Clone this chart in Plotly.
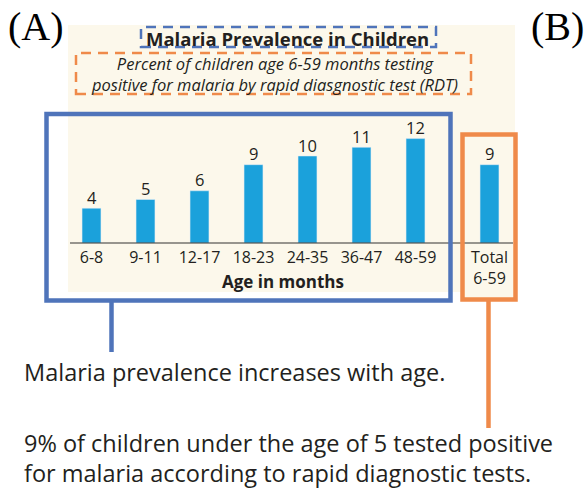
import plotly.graph_objects as go

# ---- data ----
age_groups = ["6-8", "9-11", "12-17", "18-23", "24-35", "36-47", "48-59"]
prevalence = [4, 5, 6, 9, 10, 11, 12]
total_label = ["Total<br>6-59"]
total_value = [9]

title_text = "Malaria Prevalence in Children"
subtitle_lines = ["Percent of children age 6-59 months testing",
                  "positive for malaria by rapid diasgnostic test (RDT)"]
xaxis_title = "Age in months"
note_a = "Malaria prevalence increases with age."
note_b = ["9% of children under the age of 5 tested positive",
          "for malaria according to rapid diagnostic tests."]

W, H = 588, 490
BAR = "#1ba1db"
CREAM = "#fcf8eb"
BLUE = "#4f74ba"
ORANGE = "#ef8a4a"
TXT = "#231f20"
FONT = "Open Sans"


def X(p):
    return p / W


def Y(p):
    return 1 - p / H


fig = go.Figure()
fig.add_trace(go.Bar(
    x=age_groups, y=prevalence, marker_color=BAR, width=0.35,
    xaxis="x", yaxis="y", showlegend=False, hoverinfo="x+y"))
fig.add_trace(go.Bar(
    x=total_label, y=total_value, marker_color=BAR, width=0.35,
    xaxis="x2", yaxis="y", showlegend=False, hoverinfo="y"))

base_px = 243
unit_px = 8.7
ymax = 14
y_dom = [Y(base_px), Y(base_px - ymax * unit_px)]

axis_common = dict(showgrid=False, zeroline=False, showline=False, ticks="",
                   tickfont=dict(size=16, color=TXT, family=FONT),
                   ticklabelstandoff=3, fixedrange=True)
fig.update_layout(
    width=W, height=H, margin=dict(l=0, r=0, t=0, b=0),
    paper_bgcolor="white", plot_bgcolor="rgba(0,0,0,0)",
    font=dict(family=FONT, color=TXT),
    bargap=0.65,
    xaxis=dict(domain=[X(64.5), X(442.5)], type="category", anchor="y",
               range=[-0.5, 6.5], **axis_common),
    xaxis2=dict(domain=[X(462.5), X(516.5)], type="category", anchor="y",
                range=[-0.5, 0.5], **axis_common),
    yaxis=dict(domain=y_dom, range=[0, ymax], showticklabels=False,
               showgrid=False, zeroline=False, showline=False, fixedrange=True),
)

shapes = []
# cream background
shapes.append(dict(type="rect", xref="paper", yref="paper", layer="below",
                   x0=X(68), x1=X(515), y0=Y(292), y1=Y(25),
                   fillcolor=CREAM, line=dict(width=0)))
shapes.append(dict(type="rect", xref="paper", yref="paper", layer="below",
                   x0=X(462), x1=X(516), y0=Y(300), y1=Y(134),
                   fillcolor=CREAM, line=dict(width=0)))
# baseline
shapes.append(dict(type="line", xref="paper", yref="paper",
                   x0=X(70), x1=X(513), y0=Y(base_px), y1=Y(base_px),
                   line=dict(color="#333333", width=1.2)))
# dashed title boxes
shapes.append(dict(type="rect", xref="paper", yref="paper",
                   x0=X(141), x1=X(436), y0=Y(47), y1=Y(27),
                   line=dict(color=BLUE, width=2.5, dash="10px,7px")))
shapes.append(dict(type="rect", xref="paper", yref="paper",
                   x0=X(76), x1=X(471), y0=Y(94), y1=Y(53),
                   line=dict(color=ORANGE, width=2.5, dash="10px,7px")))
# solid highlight boxes
shapes.append(dict(type="rect", xref="paper", yref="paper",
                   x0=X(46.5), x1=X(450.5), y0=Y(300.5), y1=Y(114),
                   line=dict(color=BLUE, width=4.5)))
shapes.append(dict(type="line", xref="paper", yref="paper",
                   x0=X(111.5), x1=X(111.5), y0=Y(302), y1=Y(352),
                   line=dict(color=BLUE, width=4.5)))
shapes.append(dict(type="rect", xref="paper", yref="paper",
                   x0=X(462.5), x1=X(515.5), y0=Y(299.5), y1=Y(134.5),
                   line=dict(color=ORANGE, width=4.5)))
shapes.append(dict(type="line", xref="paper", yref="paper",
                   x0=X(488.5), x1=X(488.5), y0=Y(301), y1=Y(428),
                   line=dict(color=ORANGE, width=4.5)))
fig.update_layout(shapes=shapes)


def ann(text, x, y, size, xanchor="center", bold=False, italic=False,
        family=FONT, color=TXT):
    t = text
    if bold:
        t = "<b>" + t + "</b>"
    if italic:
        t = "<i>" + t + "</i>"
    return dict(text=t, x=X(x), y=Y(y), xref="paper", yref="paper",
                xanchor=xanchor, yanchor="middle", showarrow=False,
                font=dict(size=size, family=family, color=color))


anns = [
    ann("(A)", 35.5, 27, 40, family="Liberation Serif", color="black"),
    ann("(B)", 557.5, 27, 40, family="Liberation Serif", color="black"),
    ann(title_text, 287, 38, 18.5, bold=True),
    ann("<br>".join(subtitle_lines), 274, 73.5, 16.5, italic=True),
    ann(xaxis_title, 283, 281, 17, bold=True),
    ann(note_a, 22, 372, 23.5, xanchor="left"),
    ann(note_b[0], 22, 443, 23.5, xanchor="left"),
    ann(note_b[1], 22, 473, 23.5, xanchor="left"),
]
# value labels above bars, from the data
for cat, val in zip(age_groups, prevalence):
    anns.append(dict(text=str(val), x=cat, y=val, xref="x", yref="y",
                     yanchor="middle", yshift=11, showarrow=False,
                     font=dict(size=16.5, family=FONT, color=TXT)))
for cat, val in zip(total_label, total_value):
    anns.append(dict(text=str(val), x=cat, y=val, xref="x2", yref="y",
                     yanchor="middle", yshift=11, showarrow=False,
                     font=dict(size=16.5, family=FONT, color=TXT)))
fig.update_layout(annotations=anns)

fig.write_html("out.html",
               config={"displayModeBar": False},
               post_script="document.body.style.margin='0';"
                           "document.body.style.overflow='hidden';")
